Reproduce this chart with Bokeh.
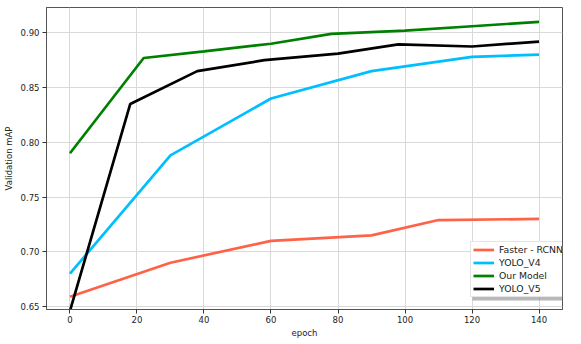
from bokeh.plotting import figure
from bokeh.models import (Range1d, FixedTicker, PrintfTickFormatter, Legend, LegendItem,
                          BoxAnnotation)
from bokeh.embed import file_html
from bokeh.resources import INLINE

# ---- data ----
rcnn_epoch = [0, 30, 60, 90, 110, 140]
rcnn_map = [0.659, 0.690, 0.710, 0.715, 0.729, 0.730]

v4_epoch = [0, 30, 60, 90, 120, 140]
v4_map = [0.680, 0.788, 0.840, 0.865, 0.878, 0.880]

ours_epoch = [0, 22, 40, 60, 78, 100, 120, 140]
ours_map = [0.790, 0.877, 0.883, 0.890, 0.899, 0.902, 0.906, 0.910]

v5_epoch = [0, 18, 38, 58, 80, 98, 120, 140]
v5_map = [0.646, 0.835, 0.865, 0.875, 0.881, 0.8895, 0.8875, 0.892]

x_ticks = [0, 20, 40, 60, 80, 100, 120, 140]
y_ticks = [0.65, 0.70, 0.75, 0.80, 0.85, 0.90]

FONT = "DejaVu Sans"

p = figure(frame_width=516, frame_height=302, output_backend="svg", toolbar_location=None,
           x_range=Range1d(-7, 147), y_range=Range1d(0.6473, 0.9231),
           min_border_left=0, min_border_right=10, min_border_top=7, min_border_bottom=0,
           background_fill_color="white", border_fill_color="white")

p.outline_line_color = "#555555"
p.outline_line_width = 1

for ax in (p.xaxis[0], p.yaxis[0]):
    ax.axis_line_color = "#555555"
    ax.major_tick_line_color = "#333333"
    ax.minor_tick_line_color = None
    ax.major_tick_out = 4
    ax.major_tick_in = 0
    ax.major_label_text_font = FONT
    ax.major_label_text_font_size = "8.5px"
    ax.major_label_text_color = "#222222"
    ax.axis_label_text_font = FONT
    ax.axis_label_text_font_size = "8.5px"
    ax.axis_label_text_font_style = "normal"
    ax.axis_label_text_color = "#222222"

p.xaxis.ticker = FixedTicker(ticks=x_ticks)
p.yaxis.ticker = FixedTicker(ticks=y_ticks)
p.yaxis.formatter = PrintfTickFormatter(format="%.2f")
p.xaxis.axis_label = "epoch"
p.yaxis.axis_label = "Validation mAP"
p.xaxis.major_label_standoff = 2
p.xaxis.axis_label_standoff = 2
p.yaxis.major_label_standoff = 3
p.yaxis.axis_label_standoff = 4

p.grid.grid_line_color = "#d9d9d9"
p.grid.grid_line_width = 1

LW = 2.7
r1 = p.line(rcnn_epoch, rcnn_map, line_color="#ff6347", line_width=LW)
r2 = p.line(v4_epoch, v4_map, line_color="#00bfff", line_width=LW)
r3 = p.line(ours_epoch, ours_map, line_color="#008000", line_width=LW)
r4 = p.line(v5_epoch, v5_map, line_color="#000000", line_width=LW)

# legend drop shadow (screen units, relative to the frame's lower-left corner)
shadow = BoxAnnotation(left=426, right=522, bottom=9, top=64,
                       left_units="screen", right_units="screen",
                       bottom_units="screen", top_units="screen",
                       fill_color="#888888", fill_alpha=0.6, line_color=None)
p.add_layout(shadow)

legend = Legend(items=[LegendItem(label="Faster - RCNN", renderers=[r1]),
                       LegendItem(label="YOLO_V4", renderers=[r2]),
                       LegendItem(label="Our Model", renderers=[r3]),
                       LegendItem(label="YOLO_V5", renderers=[r4])],
                location=(424, 12))
legend.label_text_font = FONT
legend.label_text_font_size = "9.3px"
legend.label_text_color = "#222222"
legend.label_height = 11
legend.glyph_height = 11
legend.glyph_width = 21
legend.spacing = 2
legend.padding = 2
legend.margin = 0
legend.label_standoff = 5
legend.border_line_color = "#cccccc"
legend.border_line_width = 1
legend.background_fill_color = "white"
legend.background_fill_alpha = 1.0
p.add_layout(legend, "center")

open("out.html", "w").write(file_html(p, INLINE))
